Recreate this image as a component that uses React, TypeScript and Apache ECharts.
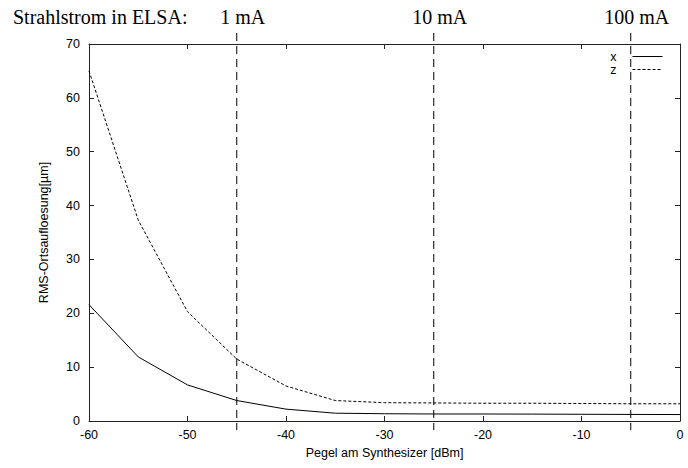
import React, { useEffect, useRef } from "react";
import * as echarts from "echarts";

// Synthesizer level [dBm]
const levels = [-60, -55, -50, -45, -40, -35, -30, -25, -20, -15, -10, -5, 0];
// RMS position resolution [µm] for the two planes
const resX = [21.6, 11.9, 6.7, 3.8, 2.2, 1.45, 1.35, 1.3, 1.3, 1.28, 1.25, 1.22, 1.2];
const resZ = [65.0, 37.3, 20.3, 11.5, 6.5, 3.8, 3.4, 3.35, 3.3, 3.3, 3.25, 3.2, 3.2];
// Beam current markers in ELSA
const currentLevels = [-45, -25, -5];
const currentLabels = ["1 mA", "10 mA", "100 mA"];

const SANS = "'Liberation Sans', Arial, sans-serif";
const SERIF = "'Liberation Serif', 'Times New Roman', serif";
const FS = 12.5;

export default function App() {
  const ref = useRef<HTMLDivElement>(null);

  useEffect(() => {
    if (!ref.current) return;
    const chart = echarts.init(ref.current, undefined, { renderer: "svg" });

    const axisLine = { show: true, onZero: false, lineStyle: { color: "#222", width: 1 } };
    const tick = { show: true, inside: true, length: 5, lineStyle: { color: "#222" } };
    const label = { color: "#000", fontFamily: SANS, fontSize: FS };
    const nameStyle = { fontFamily: SANS, fontSize: FS, color: "#000" };

    chart.setOption({
      animation: false,
      backgroundColor: "#fff",
      grid: { left: 89, right: 8, top: 44, bottom: 47 },
      graphic: [
        {
          type: "text",
          left: 13,
          top: 7,
          style: { text: "Strahlstrom in ELSA:", font: `20px ${SERIF}`, fill: "#000" },
        },
      ],
      legend: {
        orient: "vertical",
        right: 20,
        top: 45,
        align: "right",
        itemWidth: 30,
        itemHeight: 8,
        itemGap: 0,
        itemStyle: { opacity: 0 },
        textStyle: { fontFamily: SANS, fontSize: FS, color: "#000", padding: [0, 11, 0, 0] },
        data: [
          { name: "x", lineStyle: { width: 1, color: "#000", type: "solid" } },
          { name: "z", lineStyle: { width: 1, color: "#000", type: [3, 2] } },
        ],
      },
      xAxis: [
        {
          type: "value",
          min: -60,
          max: 0,
          interval: 10,
          axisLine,
          axisTick: tick,
          splitLine: { show: false },
          axisLabel: { ...label, margin: 7 },
          name: "Pegel am Synthesizer [dBm]",
          nameLocation: "middle",
          nameGap: 25,
          nameTextStyle: nameStyle,
        },
        {
          type: "value",
          position: "top",
          min: -60,
          max: 0,
          interval: 10,
          axisLine,
          axisTick: tick,
          splitLine: { show: false },
          axisLabel: { show: false },
        },
      ],
      yAxis: [
        {
          type: "value",
          min: 0,
          max: 70,
          interval: 10,
          axisLine,
          axisTick: tick,
          splitLine: { show: false },
          axisLabel: { ...label, margin: 9 },
          name: "RMS-Ortsaufloesung[µm]",
          nameLocation: "middle",
          nameGap: 39,
          nameTextStyle: nameStyle,
        },
        {
          type: "value",
          position: "right",
          min: 0,
          max: 70,
          interval: 10,
          axisLine,
          axisTick: tick,
          splitLine: { show: false },
          axisLabel: { show: false },
        },
      ],
      series: [
        {
          name: "x",
          type: "line",
          data: levels.map((l, i) => [l, resX[i]]),
          symbol: "none",
          lineStyle: { color: "#000", width: 1 },
          itemStyle: { color: "#000" },
        },
        {
          name: "z",
          type: "line",
          data: levels.map((l, i) => [l, resZ[i]]),
          symbol: "none",
          lineStyle: { color: "#000", width: 1, type: [3, 2] },
          itemStyle: { color: "#000" },
        },
        {
          name: "current",
          type: "custom",
          clip: false,
          silent: true,
          data: currentLevels.map((l, i) => [l, 0, i]),
          renderItem: (params: any, api: any) => {
            const cs = params.coordSys;
            const p = api.coord([api.value(0), 0]);
            const idx = api.value(2);
            return {
              type: "group",
              children: [
                {
                  type: "line",
                  shape: { x1: p[0], y1: cs.y - 11, x2: p[0], y2: cs.y + cs.height + 9 },
                  style: { stroke: "#000", lineWidth: 1, lineDash: [8, 5] },
                },
                {
                  type: "text",
                  x: p[0] + 6,
                  y: 17,
                  style: {
                    text: currentLabels[idx],
                    font: `20px ${SERIF}`,
                    fill: "#000",
                    align: "center",
                    verticalAlign: "middle",
                  },
                },
              ],
            };
          },
        },
      ],
    });

    return () => chart.dispose();
  }, []);

  return (
    <div
      ref={ref}
      style={{ position: "absolute", left: 0, top: 0, width: 688, height: 468 }}
    />
  );
}
